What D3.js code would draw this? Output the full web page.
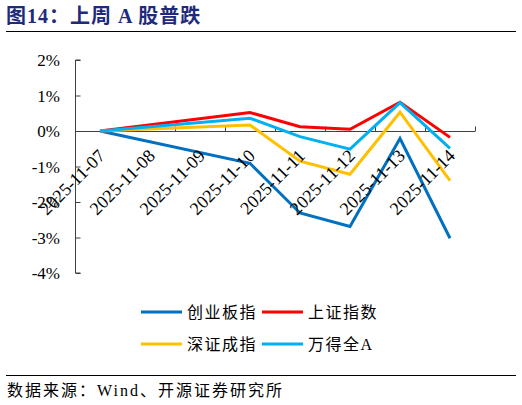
<!DOCTYPE html>
<html>
<head>
<meta charset="utf-8">
<script src="https://cdn.jsdelivr.net/npm/d3@7"></script>
<style>
  body { margin: 0; background: #fff; }
  svg { display: block; }
</style>
</head>
<body>
<svg id="svg" width="522" height="405"></svg>
<script>
// data
var dates = ["2025-11-07","2025-11-08","2025-11-09","2025-11-10","2025-11-11","2025-11-12","2025-11-13","2025-11-14"];
var tradeDays = ["2025-11-07","2025-11-10","2025-11-11","2025-11-12","2025-11-13","2025-11-14"];
var chinext = [0, -0.91, -2.31, -2.69, -0.21, -3.02];   // 创业板指
var shanghai = [0, 0.52, 0.12, 0.05, 0.81, -0.18];      // 上证指数
var shenzhen = [0, 0.17, -0.85, -1.22, 0.53, -1.40];    // 深证成指
var windA = [0, 0.36, -0.16, -0.51, 0.80, -0.49];       // 万得全A
var yTicks = [2, 1, 0, -1, -2, -3, -4];

var seriesNames = ["创业板指", "上证指数", "深证成指", "万得全A"];
var seriesColors = ["#0070c0", "#ff0000", "#ffc000", "#00b0f0"];
var seriesData = [chinext, shanghai, shenzhen, windA];

var serif = "'Liberation Serif','Times New Roman','Noto Sans CJK SC',serif";
var svg = d3.select("#svg");

// title + rules
svg.append("text")
    .attr("x", 6).attr("y", 23)
    .style("font-family", "'Liberation Serif','Noto Sans CJK SC',serif")
    .style("font-weight", "bold")
    .style("font-size", "20px")
    .style("letter-spacing", "1px")
    .style("fill", "#1f2a7c")
    .text("图14：上周 A 股普跌");
svg.append("line").attr("x1", 6).attr("x2", 516).attr("y1", 31.5).attr("y2", 31.5)
    .attr("stroke", "#000").attr("stroke-width", 1);
svg.append("line").attr("x1", 6).attr("x2", 516).attr("y1", 375.5).attr("y2", 375.5)
    .attr("stroke", "#000").attr("stroke-width", 1);

svg.append("text")
    .attr("x", 7).attr("y", 396)
    .style("font-family", serif)
    .style("font-size", "16px")
    .style("letter-spacing", "2px")
    .style("fill", "#000")
    .text("数据来源：Wind、开源证券研究所");

// scales
var x = d3.scaleBand().domain(dates).range([75, 475]);
var y = d3.scaleLinear().domain([-4, 2]).range([273, 60]);
var xc = function(d) { return x(d) + x.bandwidth() / 2; };

// y axis
var yAxis = svg.append("g")
    .attr("transform", "translate(75.5,0)")
    .call(d3.axisRight(y).tickValues(yTicks).tickSize(5).tickFormat(""));
yAxis.select(".domain").attr("stroke", "#404040").attr("d", "M5," + y(2) + "H0V" + y(-4) + "H5");
yAxis.selectAll(".tick line").attr("stroke", "#404040");

svg.selectAll(".ylab")
    .data(yTicks)
    .enter().append("text")
    .attr("x", 60).attr("y", function(d) { return y(d) + 6; })
    .attr("text-anchor", "end")
    .style("font-family", serif)
    .style("font-size", "17px")
    .style("fill", "#000")
    .text(function(d) { return d + "%"; });

// x axis at zero
var xAxis = svg.append("g").attr("transform", "translate(0," + (y(0) + 0.5) + ")");
xAxis.append("line").attr("x1", 75).attr("x2", 475).attr("stroke", "#404040");
xAxis.selectAll(".xt")
    .data(dates.slice(1).concat(["end"]))
    .enter().append("line")
    .attr("x1", function(d, i) { return 75 + (i + 1) * x.bandwidth() + 0.5; })
    .attr("x2", function(d, i) { return 75 + (i + 1) * x.bandwidth() + 0.5; })
    .attr("y1", 0).attr("y2", -5)
    .attr("stroke", "#404040");

// lines
var line = d3.line()
    .x(function(d, i) { return xc(tradeDays[i]); })
    .y(function(d) { return y(d); });

seriesData.forEach(function(s, k) {
    svg.append("path")
        .datum(s)
        .attr("d", line)
        .attr("fill", "none")
        .attr("stroke", seriesColors[k])
        .attr("stroke-width", 3)
        .attr("stroke-linejoin", "miter");
});

// rotated date labels (drawn over the lines like the original)
svg.selectAll(".xlab")
    .data(dates)
    .enter().append("text")
    .attr("transform", function(d) { return "translate(" + (xc(d) + 6) + "," + (y(0) + 26) + ") rotate(-45)"; })
    .attr("text-anchor", "end")
    .style("font-family", serif)
    .style("font-size", "18px")
    .style("fill", "#000")
    .text(function(d) { return d; });

// legend
var legX = [141, 262], legY = [312, 344];
seriesNames.forEach(function(n, k) {
    var lx = legX[k % 2], ly = legY[Math.floor(k / 2)];
    svg.append("line")
        .attr("x1", lx).attr("x2", lx + 41)
        .attr("y1", ly).attr("y2", ly)
        .attr("stroke", seriesColors[k]).attr("stroke-width", 3);
    svg.append("text")
        .attr("x", lx + 46).attr("y", ly + 6)
        .style("font-family", serif)
        .style("font-size", "16px")
        .style("letter-spacing", "1.5px")
        .style("fill", "#000")
        .text(n);
});
</script>
</body>
</html>
